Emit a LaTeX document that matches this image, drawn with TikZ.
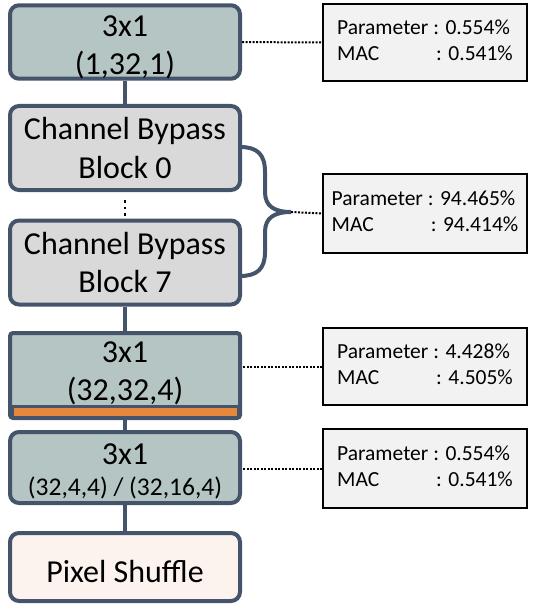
\documentclass[tikz,border=0pt]{standalone}
\usepackage{fontspec}
\setmainfont{Carlito}
\definecolor{slate}{HTML}{44546A}
\definecolor{convfill}{HTML}{B5C5C3}
\definecolor{blockfill}{HTML}{D9D9D9}
\definecolor{shufflefill}{HTML}{FDF3EE}
\definecolor{infofill}{HTML}{F2F2F2}
\definecolor{barorange}{HTML}{E5883E}
% invisible struts that push a line's text up or down inside its box
\newcommand{\lift}[1]{\rule{0pt}{#1}}
\newcommand{\sink}[1]{\rule[-#1]{0pt}{0pt}}
% two-line statistics table with the colons lined up
\newcommand{\stats}[2]{\begin{tabular}{@{}l@{}l@{}}Parameter & \ : #1\%\\ MAC & \ \hspace{3pt}: #2\%\end{tabular}}
\begin{document}
\begin{tikzpicture}[x=1pt,y=-1pt,
  blk/.style={draw=slate, line width=4pt, rounded corners=9pt,
    minimum width=230pt, inner sep=0pt, align=center,
    font=\fontsize{32}{38}\selectfont},
  conv/.style={blk, fill=convfill},
  cbb/.style={blk, fill=blockfill},
  shuffle/.style={blk, fill=shufflefill},
  info/.style={draw=black, line width=2pt, fill=infofill,
    minimum width=204pt, inner sep=0pt, align=left,
    font=\fontsize{21.5}{26}\selectfont},
  stem/.style={draw=slate, line width=4pt},
  link/.style={draw=black, line width=2pt, dash pattern=on 2pt off 1.5pt},
  brace/.style={draw=slate, line width=4pt, line cap=round}
]
\useasboundingbox (0,0) rectangle (534,604);

% main pipeline
\node[conv, minimum height=72pt] (A) at (125,42) {\lift{31pt}3x1\\(1,32,1)};
\node[cbb, minimum height=84pt] (B) at (125,148) {Channel Bypass\\Block 0};
\node[cbb, minimum height=84pt] (C) at (125,262.5) {Channel Bypass\\Block 7};
\node[conv, rounded corners=3pt, minimum height=85pt] (D) at (125,375.5)
  {3x1\\(32,32,4)\sink{9pt}};
\node[conv, minimum height=71pt] (E) at (125,467.5)
  {\lift{29pt}3x1\\[-7pt]{\fontsize{25.5}{31}\selectfont (32,4,4) / (32,16,4)}};
\node[shuffle, minimum height=68pt] (F) at (125,567) {\lift{31pt}Pixel Shuffle};

% orange bar along the bottom of the upsampling conv
\draw[slate, line width=3pt, fill=barorange] (12,406) rectangle (238,417);

% connectors between stages
\draw[stem] (A) -- (B);
\draw[black, line width=2.5pt, dash pattern=on 2.5pt off 4pt,
  shorten <=8pt, shorten >=3pt] (B) -- (C);
\draw[stem] (C) -- (D);
\draw[stem] (D) -- (E);
\draw[stem] (E) -- (F);

% statistics boxes
\node[info, minimum height=77pt] (I1) at (425,42.5) {\stats{0.554}{0.541}};
\node[info, minimum height=79pt] (I2) at (425,213.5) {\stats{94.465}{94.414}};
\node[info, minimum height=77pt] (I3) at (425,366.5) {\stats{4.428}{4.505}};
\node[info, minimum height=79pt] (I4) at (425,468.5) {\stats{0.554}{0.541}};

% brace grouping the channel bypass blocks
\coordinate (bt) at (240,147);
\coordinate (tip) at (291,212);
\coordinate (bb) at (240,276);
\draw[brace] (bt) .. controls (257,147) and (265,154) .. (265,172)
  -- (265,192) .. controls (265,206) and (274,212) .. (tip)
  .. controls (274,212) and (265,218) .. (265,232)
  -- (265,252) .. controls (265,269) and (257,276) .. (bb);

% dotted links to the statistics
\draw[link] (A) -- (I1);
\draw[link] (tip) -- (I2.west);
\draw[link] (I3.west) -- (I3.west -| D.east);
\draw[link] (I4.west) -- (I4.west -| E.east);
\end{tikzpicture}
\end{document}
